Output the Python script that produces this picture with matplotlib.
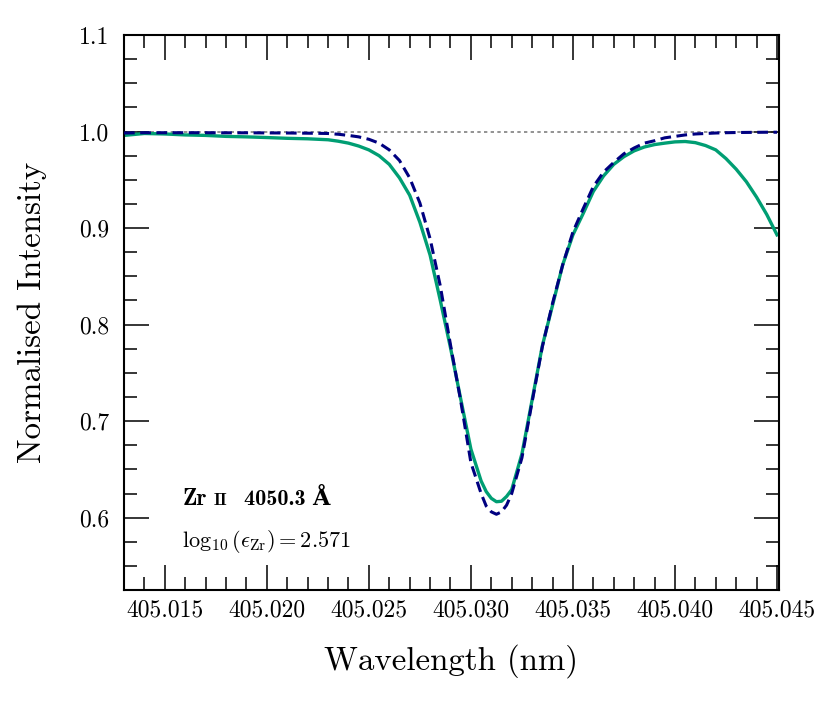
import numpy as np
import matplotlib
matplotlib.use("Agg")
import matplotlib.pyplot as plt
from matplotlib.ticker import MultipleLocator, FormatStrFormatter

plt.rcParams['font.family'] = ['cmr10', 'DejaVu Serif']
plt.rcParams['mathtext.fontset'] = 'cm'
plt.rcParams['axes.formatter.use_mathtext'] = True

# wavelength grid (nm)
wave = [405.0130, 405.0140, 405.0150, 405.0160, 405.0170, 405.0180, 405.0190,
        405.0200, 405.0210, 405.0220, 405.0230, 405.0235, 405.0240, 405.0245,
        405.0250, 405.0255, 405.0260, 405.0265, 405.0270, 405.0275, 405.0280,
        405.0285, 405.0290, 405.0295, 405.0300, 405.0305, 405.03075, 405.0310,
        405.03125, 405.0315, 405.03175, 405.0320, 405.0325, 405.0330, 405.0335,
        405.0340, 405.0345, 405.0350, 405.0355, 405.0360, 405.0365, 405.0370,
        405.0375, 405.0380, 405.0385, 405.0390, 405.0395, 405.0400, 405.0405,
        405.0410, 405.0415, 405.0420, 405.0425, 405.0430, 405.0435, 405.0440,
        405.0445, 405.0450]

# observed spectrum (solid green)
observed = [0.996, 0.998, 0.9975, 0.9965, 0.996, 0.995, 0.9945,
            0.9938, 0.993, 0.9925, 0.9915, 0.990, 0.988, 0.985,
            0.981, 0.975, 0.966, 0.952, 0.934, 0.906, 0.872,
            0.825, 0.776, 0.723, 0.671, 0.638, 0.627, 0.620,
            0.6165, 0.617, 0.622, 0.629, 0.666, 0.722, 0.778,
            0.820, 0.862, 0.893, 0.915, 0.938, 0.954, 0.966,
            0.974, 0.980, 0.984, 0.9865, 0.988, 0.9893, 0.9897,
            0.9885, 0.9855, 0.981, 0.972, 0.961, 0.948, 0.932,
            0.914, 0.893]

# synthetic fit (dashed navy)
synthetic = [0.9985, 0.9988, 0.9988, 0.9988, 0.9988, 0.9987, 0.9987,
             0.9986, 0.9985, 0.9983, 0.998, 0.9972, 0.996, 0.9945,
             0.992, 0.988, 0.981, 0.970, 0.952, 0.926, 0.889,
             0.840, 0.779, 0.721, 0.657, 0.625, 0.612, 0.606,
             0.6035, 0.606, 0.613, 0.625, 0.662, 0.720, 0.777,
             0.822, 0.862, 0.896, 0.920, 0.943, 0.958, 0.968,
             0.977, 0.983, 0.988, 0.9905, 0.9935, 0.995, 0.9965,
             0.9975, 0.998, 0.9985, 0.9988, 0.999, 0.9991, 0.9992,
             0.9993, 0.9993]

fig = plt.figure(figsize=(8.3, 7.12), dpi=100)
ax = fig.add_axes([0.1494, 0.1713, 0.7892, 0.7795])

ax.axhline(1.0, color='grey', ls=(0, (2, 2)), lw=1.2, zorder=1)
ax.plot(wave, observed, color='#009E73', lw=2.4, zorder=2)
ax.plot(wave, synthetic, color='#000080', lw=2.2, ls=(0, (3.5, 1.8)), zorder=3)

ax.set_xlim(405.0130, 405.04510)
ax.set_ylim(0.525, 1.1)

ax.xaxis.set_major_locator(MultipleLocator(0.005))
ax.xaxis.set_minor_locator(MultipleLocator(0.001))
ax.xaxis.set_major_formatter(FormatStrFormatter('%.3f'))
ax.yaxis.set_major_locator(MultipleLocator(0.1))
ax.yaxis.set_minor_locator(MultipleLocator(0.025))
ax.yaxis.set_major_formatter(FormatStrFormatter('%.1f'))

ax.tick_params(which='both', direction='in', top=True, right=True, labelsize=17)
ax.tick_params(which='major', length=18, width=1.1)
ax.tick_params(which='minor', length=9.5, width=1.1)
ax.tick_params(axis='x', which='major', pad=7)
ax.tick_params(axis='y', which='major', pad=10.5)
for s in ax.spines.values():
    s.set_linewidth(1.5)

ax.set_xlabel('Wavelength (nm)', fontsize=23.7, labelpad=16)
ax.set_ylabel('Normalised Intensity', fontsize=23.7, labelpad=23)

# line label
bold = ['cmb10', 'DejaVu Serif']
ax.text(0.090, 0.153, 'Zr', transform=ax.transAxes, fontsize=17, family=bold,
        weight='bold', va='baseline')
ax.text(0.137, 0.153, 'II', transform=ax.transAxes, fontsize=12.5, family=bold,
        weight='bold', va='baseline')
ax.text(0.183, 0.153, '4050.3 Å', transform=ax.transAxes, fontsize=16, family=bold,
        weight='bold', va='baseline')
ax.text(0.088, 0.0775, r'$\log_{10}(\epsilon_{\mathrm{Zr}}) = 2.571$', transform=ax.transAxes,
        fontsize=16, va='baseline')

fig.savefig('out.png', dpi=100)
